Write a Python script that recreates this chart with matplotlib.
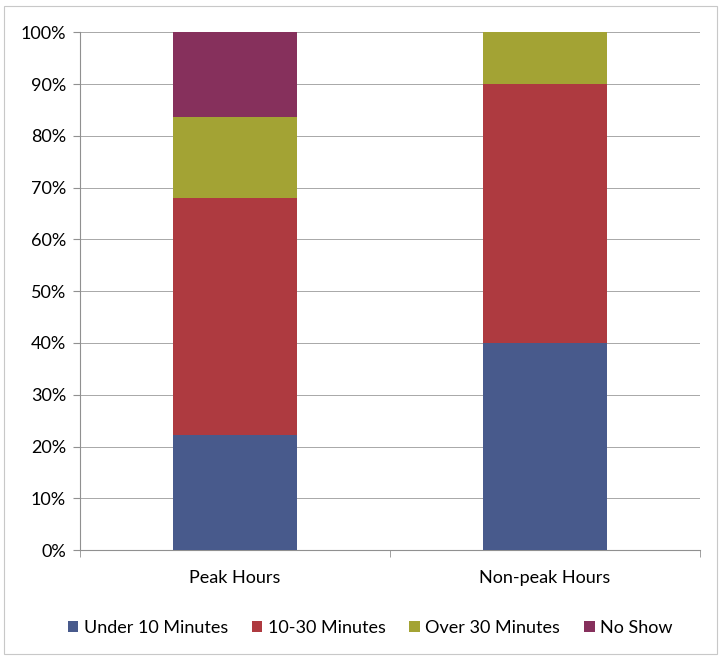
import numpy as np
import matplotlib.pyplot as plt
from matplotlib.patches import Rectangle

# Share of patients by waiting time (%)
categories = ["Peak Hours", "Non-peak Hours"]
series_names = ["Under 10 Minutes", "10-30 Minutes", "Over 30 Minutes", "No Show"]
under_10 = [22.2, 40.0]
mins_10_30 = [45.8, 50.0]
over_30 = [15.7, 10.0]
no_show = [16.3, 0.0]
yticks = [0, 10, 20, 30, 40, 50, 60, 70, 80, 90, 100]

colors = ["#485a8c", "#ae3a40", "#a3a334", "#86305c"]

plt.rcParams["font.family"] = ["Lato", "DejaVu Sans"]

fig = plt.figure(figsize=(7.2, 6.58), dpi=100)
fig.patches.append(Rectangle((0.006, 0.006), 0.99, 0.985, transform=fig.transFigure,
                             fill=False, edgecolor="#c8c8c8", linewidth=0.8))
ax = fig.add_axes([0.111, 0.164, 0.861, 0.787])

x = np.arange(len(categories))
bottom = np.zeros(len(categories))
for name, vals, c in zip(series_names, [under_10, mins_10_30, over_30, no_show], colors):
    ax.bar(x, vals, width=0.4, bottom=bottom, color=c, label=name, zorder=3)
    bottom += np.array(vals)

ax.set_xlim(-0.5, 1.5)
ax.set_ylim(0, 100)
ax.set_yticks(yticks)
ax.set_yticklabels([f"{t}%" for t in yticks], fontsize=13)
ax.yaxis.grid(True, color="#a8a8a8", linewidth=0.7, zorder=0)
ax.tick_params(axis="y", length=5, color="#909090", pad=5)

ax.set_xticks(x)
ax.set_xticklabels(categories, fontsize=13)
ax.tick_params(axis="x", length=0, pad=14)
# category boundary ticks below the axis
ax.set_xticks([-0.5, 0.5, 1.5], minor=True)
ax.tick_params(axis="x", which="minor", length=5, color="#909090")

for side in ["top", "right"]:
    ax.spines[side].set_visible(False)
for side in ["left", "bottom"]:
    ax.spines[side].set_color("#909090")
    ax.spines[side].set_linewidth(0.8)

fig.legend(loc="center", bbox_to_anchor=(0.514, 0.046), ncol=4, frameon=False,
           fontsize=13, handlelength=0.6, handleheight=0.6, handletextpad=0.3,
           columnspacing=1.3)

fig.savefig("out.png", dpi=100)
